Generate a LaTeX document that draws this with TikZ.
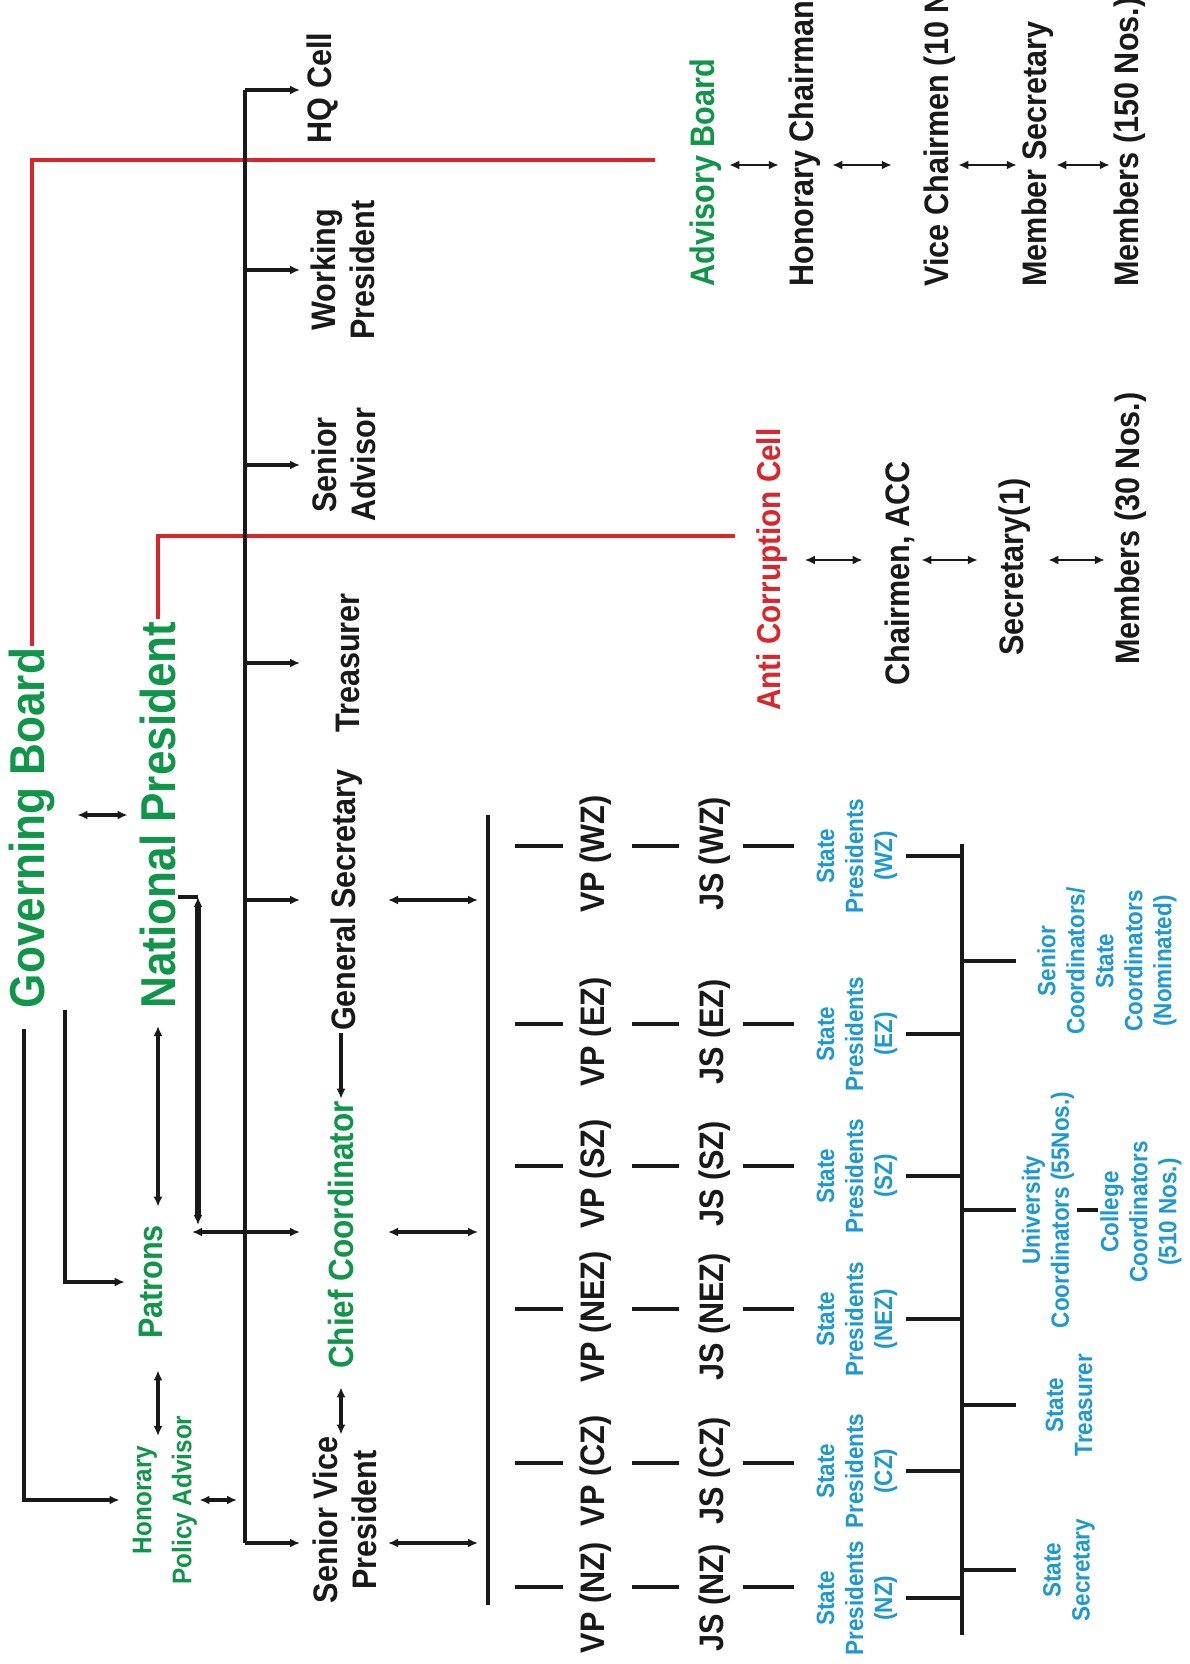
\documentclass[tikz,border=0pt]{standalone}
\usepackage{fontspec}
\newfontfamily\lsn{Liberation Sans}[FakeStretch=0.9]
\usetikzlibrary{arrows.meta}
\definecolor{ink}{RGB}{25,25,25}
\definecolor{orggreen}{RGB}{16,150,72}
\definecolor{orgred}{RGB}{218,37,42}
\definecolor{orgblue}{RGB}{28,152,212}

\begin{document}
\begin{tikzpicture}[x=0.5pt,y=0.5pt,yscale=-1,xscale=1,
  lab/.style={rotate=90,inner sep=1pt,align=center,text=ink,font=\lsn\bfseries\fontsize{17}{19.5}\selectfont},
  grn/.style={lab,text=orggreen},
  head/.style={lab,text=orggreen,font=\lsn\bfseries\fontsize{24.5}{28}\selectfont},
  blu/.style={lab,text=orgblue,font=\lsn\bfseries\fontsize{12.5}{14.5}\selectfont},
  spine/.style={line width=2.3pt,draw=ink},
  tick/.style={line width=1.8pt,draw=ink,-{Latex[length=5pt,width=4.5pt]}},
  dbl/.style={line width=1.7pt,draw=ink,{Latex[length=5pt,width=4.5pt]}-{Latex[length=5pt,width=4.5pt]}},
  fwd/.style={line width=1.7pt,draw=ink,-{Latex[length=5pt,width=4.5pt]}},
  bar/.style={line width=2.4pt,draw=ink},
  redline/.style={line width=2pt,draw=orgred}]
\useasboundingbox (0,0) rectangle (1189,1664);
\clip (0,0) rectangle (1189,1664);

% Text Node
\node[head] (gb) at (32,828) {Governing Board};
% Text Node
\node[head] (np) at (158,815) {National President};
% Text Node
\node[grn] (pat) at (151,1282) {Patrons};
% Text Node
\node[grn,font=\lsn\bfseries\fontsize{13.5}{20}\selectfont] (hpa) at (165,1500) {Honorary\\Policy Advisor};
% Text Node
\node[lab] (hq) at (323,88) {HQ Cell};
% Text Node
\node[lab] (wp) at (343,270) {Working\\President};
% Text Node
\node[lab] (sa) at (344,465) {Senior\\Advisor};
% Text Node
\node[lab] (tr) at (348,663) {Treasurer};
% Text Node
\node[lab] (gs) at (347,900) {General Secretary};
% Text Node
\node[grn,font=\lsn\bfseries\fontsize{17.5}{20}\selectfont] (cc) at (341,1235) {Chief Coordinator};
% Text Node
\node[lab] (svp) at (345,1520) {Senior Vice\\President};

% Text Node
\node[grn,anchor=west] (adv) at (706,289) {Advisory Board};
\node[lab,anchor=west] (hch) at (805,289) {Honorary Chairman};
\node[lab,anchor=west] (vch) at (940,289) {Vice Chairmen (10 Nos.)};
\node[lab,anchor=west] (msec) at (1038,289) {Member Secretary};
\node[lab,anchor=west] (mem150) at (1130,289) {Members (150 Nos.)};
% Text Node
\node[lab,text=orgred,font=\lsn\bfseries\fontsize{16.5}{19}\selectfont,anchor=west] (acc) at (772,713) {Anti Corruption Cell};
\node[lab,anchor=west] (cha) at (900,688) {Chairmen, ACC};
\node[lab,anchor=west] (sec1) at (1015,658) {Secretary(1)};
\node[lab,anchor=west] (mem30) at (1131,667) {Members (30 Nos.)};

% Text Node
\node[lab] (vpWZ) at (596,854) {VP (WZ)};
\node[lab] (vpEZ) at (596,1032) {VP (EZ)};
\node[lab] (vpSZ) at (596,1174) {VP (SZ)};
\node[lab] (vpNEZ) at (596,1317) {VP (NEZ)};
\node[lab] (vpCZ) at (596,1471) {VP (CZ)};
\node[lab] (vpNZ) at (596,1598) {VP (NZ)};
% Text Node
\node[lab] (jsWZ) at (715,854) {JS (WZ)};
\node[lab] (jsEZ) at (715,1032) {JS (EZ)};
\node[lab] (jsSZ) at (715,1174) {JS (SZ)};
\node[lab] (jsNEZ) at (715,1317) {JS (NEZ)};
\node[lab] (jsCZ) at (715,1471) {JS (CZ)};
\node[lab] (jsNZ) at (715,1598) {JS (NZ)};
% Text Node
\node[blu] (stpWZ) at (857,856) {State\\Presidents\\(WZ)};
\node[blu] (stpEZ) at (857,1034) {State\\Presidents\\(EZ)};
\node[blu] (stpSZ) at (857,1176) {State\\Presidents\\(SZ)};
\node[blu] (stpNEZ) at (857,1319) {State\\Presidents\\(NEZ)};
\node[blu] (stpCZ) at (857,1471) {State\\Presidents\\(CZ)};
\node[blu] (stpNZ) at (857,1598) {State\\Presidents\\(NZ)};
% Text Node
\node[blu] (sc) at (1107,961) {Senior\\Coordinators/\\State\\Coordinators\\(Nominated)};
\node[blu] (univ) at (1048,1210) {University\\Coordinators (55Nos.)};
\node[blu] (col) at (1141,1212) {College\\Coordinators\\(510 Nos.)};
\node[blu] (stt) at (1069,1405) {State\\Treasurer};
\node[blu] (sts) at (1069,1570) {State\\Secretary};

% junction points
\coordinate (sp) at (245,90);
\coordinate (spb) at (245,1543);
\coordinate (tk) at (300,0);
\coordinate (ccL) at (192,1232);
\coordinate (npj0) at (178,897);
\coordinate (npj) at (198,897);
\coordinate (vt) at (488,815);
\coordinate (vb) at (488,1605);
\coordinate (la) at (388,0);
\coordinate (gbL) at (24,1029);
\coordinate (gbR) at (65,1010);
\coordinate (hpaT) at (158,1436);
\coordinate (gbr) at (655,160);
\coordinate (npr) at (735,536);
\coordinate (bs1) at (962,844);
\coordinate (bs2) at (962,1635);
\coordinate (rt) at (1016,0);
\coordinate (ay) at (0,165);
\coordinate (cy) at (0,560);
\coordinate (bWZ) at (515,846);
\coordinate (bEZ) at (515,1024);
\coordinate (bSZ) at (515,1166);
\coordinate (bNEZ) at (515,1309);
\coordinate (bCZ) at (515,1463);
\coordinate (bNZ) at (515,1587);

%Straight Lines red
\draw[redline] (gb.east) |- (gbr);
\draw[redline] (np.east) |- (npr);

%Straight Lines spine
\draw[spine] (sp) -- (spb);
\draw[tick] (sp) -- (tk |- sp);
\draw[tick] (sp |- wp) -- (tk |- wp);
\draw[tick] (sp |- sa) -- (tk |- sa);
\draw[tick] (sp |- tr) -- (tk |- tr);
\draw[tick] (sp |- gs) -- (tk |- gs);
\draw[dbl] (ccL) -- (tk |- ccL);
\draw[tick] (spb) -- (tk |- spb);

%Straight Lines left side
\draw[dbl,shorten <=10pt,shorten >=5pt] (gb.south |- np) -- (np.north);
\draw[tick,shorten >=5.5pt] (gbL) |- (hpa.north);
\draw[tick,shorten >=6pt] (gbR) |- (pat.north);
\draw[dbl,shorten <=7.5pt,shorten >=8pt] (np.west) -- (np.west |- pat.east);
\draw[dbl,shorten <=14.5pt] (pat.west -| hpaT) -- (hpaT);
\draw[dbl,shorten >=4pt] (hpa.south) -- (hpa.south -| sp);
\draw[line width=1.7pt,draw=ink] (npj0) -- (npj);
\draw[dbl,line width=2.8pt,shorten >=3.5pt] (npj) -- (npj |- ccL);
\draw[fwd] (gs.west -| cc) -- (cc.east);
\draw[dbl,shorten <=8pt] (cc.west) -- (cc.west |- svp.east);

%Straight Lines zones
\draw[bar] (vt) -- (vb);
\draw[dbl,shorten >=5pt] (la |- gs) -- (vt |- gs);
\draw[dbl,shorten >=5pt] (la |- ccL) -- (vt |- ccL);
\draw[dbl,shorten >=5pt] (la |- spb) -- (vt |- spb);

\draw[bar,shorten >=7.5pt] (bWZ) -- (bWZ -| vpWZ.north);
\draw[bar,shorten <=9pt,shorten >=9pt] (bWZ -| vpWZ.south) -- (bWZ -| jsWZ.north);
\draw[bar,shorten <=5pt,shorten >=10pt] (bWZ -| jsWZ.south) -- (bWZ -| stpWZ.north);
\draw[bar,shorten <=3pt] (stpWZ.south) -- (stpWZ.south -| bs1);

\draw[bar,shorten >=7.5pt] (bEZ) -- (bEZ -| vpEZ.north);
\draw[bar,shorten <=9pt,shorten >=9pt] (bEZ -| vpEZ.south) -- (bEZ -| jsEZ.north);
\draw[bar,shorten <=5pt,shorten >=10pt] (bEZ -| jsEZ.south) -- (bEZ -| stpEZ.north);
\draw[bar,shorten <=3pt] (stpEZ.south) -- (stpEZ.south -| bs1);

\draw[bar,shorten >=7.5pt] (bSZ) -- (bSZ -| vpSZ.north);
\draw[bar,shorten <=9pt,shorten >=9pt] (bSZ -| vpSZ.south) -- (bSZ -| jsSZ.north);
\draw[bar,shorten <=5pt,shorten >=10pt] (bSZ -| jsSZ.south) -- (bSZ -| stpSZ.north);
\draw[bar,shorten <=3pt] (stpSZ.south) -- (stpSZ.south -| bs1);

\draw[bar,shorten >=7.5pt] (bNEZ) -- (bNEZ -| vpNEZ.north);
\draw[bar,shorten <=9pt,shorten >=9pt] (bNEZ -| vpNEZ.south) -- (bNEZ -| jsNEZ.north);
\draw[bar,shorten <=5pt,shorten >=10pt] (bNEZ -| jsNEZ.south) -- (bNEZ -| stpNEZ.north);
\draw[bar,shorten <=3pt] (stpNEZ.south) -- (stpNEZ.south -| bs1);

\draw[bar,shorten >=7.5pt] (bCZ) -- (bCZ -| vpCZ.north);
\draw[bar,shorten <=9pt,shorten >=9pt] (bCZ -| vpCZ.south) -- (bCZ -| jsCZ.north);
\draw[bar,shorten <=5pt,shorten >=10pt] (bCZ -| jsCZ.south) -- (bCZ -| stpCZ.north);
\draw[bar,shorten <=3pt] (stpCZ.south) -- (stpCZ.south -| bs1);

\draw[bar,shorten >=7.5pt] (bNZ) -- (bNZ -| vpNZ.north);
\draw[bar,shorten <=9pt,shorten >=9pt] (bNZ -| vpNZ.south) -- (bNZ -| jsNZ.north);
\draw[bar,shorten <=5pt,shorten >=10pt] (bNZ -| jsNZ.south) -- (bNZ -| stpNZ.north);
\draw[bar,shorten <=3pt] (stpNZ.south) -- (stpNZ.south -| bs1);

%Straight Lines state level
\draw[bar] (bs1) -- (bs2);
\draw[bar] (bs1 |- sc) -- (rt |- sc);
\draw[bar] (bs1 |- univ) -- (rt |- univ);
\draw[bar] (bs1 |- stt) -- (rt |- stt);
\draw[bar] (bs1 |- sts) -- (rt |- sts);
\draw[bar] (univ.south) -- (univ.south -| col.north);

%Straight Lines advisory board
\draw[dbl,line width=1.4pt,shorten <=2.5pt,shorten >=4pt] (adv.south |- ay) -- (hch.north |- ay);
\draw[dbl,line width=1.4pt,shorten <=4.5pt,shorten >=15pt] (hch.south |- ay) -- (vch.north |- ay);
\draw[dbl,line width=1.4pt,shorten >=1.5pt] (vch.south |- ay) -- (msec.north |- ay);
\draw[dbl,line width=1.4pt,shorten >=1pt] (msec.south |- ay) -- (mem150.north |- ay);

%Straight Lines anti corruption cell
\draw[dbl,line width=1.4pt,shorten <=7.5pt,shorten >=10pt] (acc.south |- cy) -- (cha.north |- cy);
\draw[dbl,line width=1.4pt,shorten <=2pt,shorten >=9.5pt] (cha.south |- cy) -- (sec1.north |- cy);
\draw[dbl,line width=1.4pt,shorten <=7.5pt,shorten >=4pt] (sec1.south |- cy) -- (mem30.north |- cy);

\end{tikzpicture}
\end{document}
